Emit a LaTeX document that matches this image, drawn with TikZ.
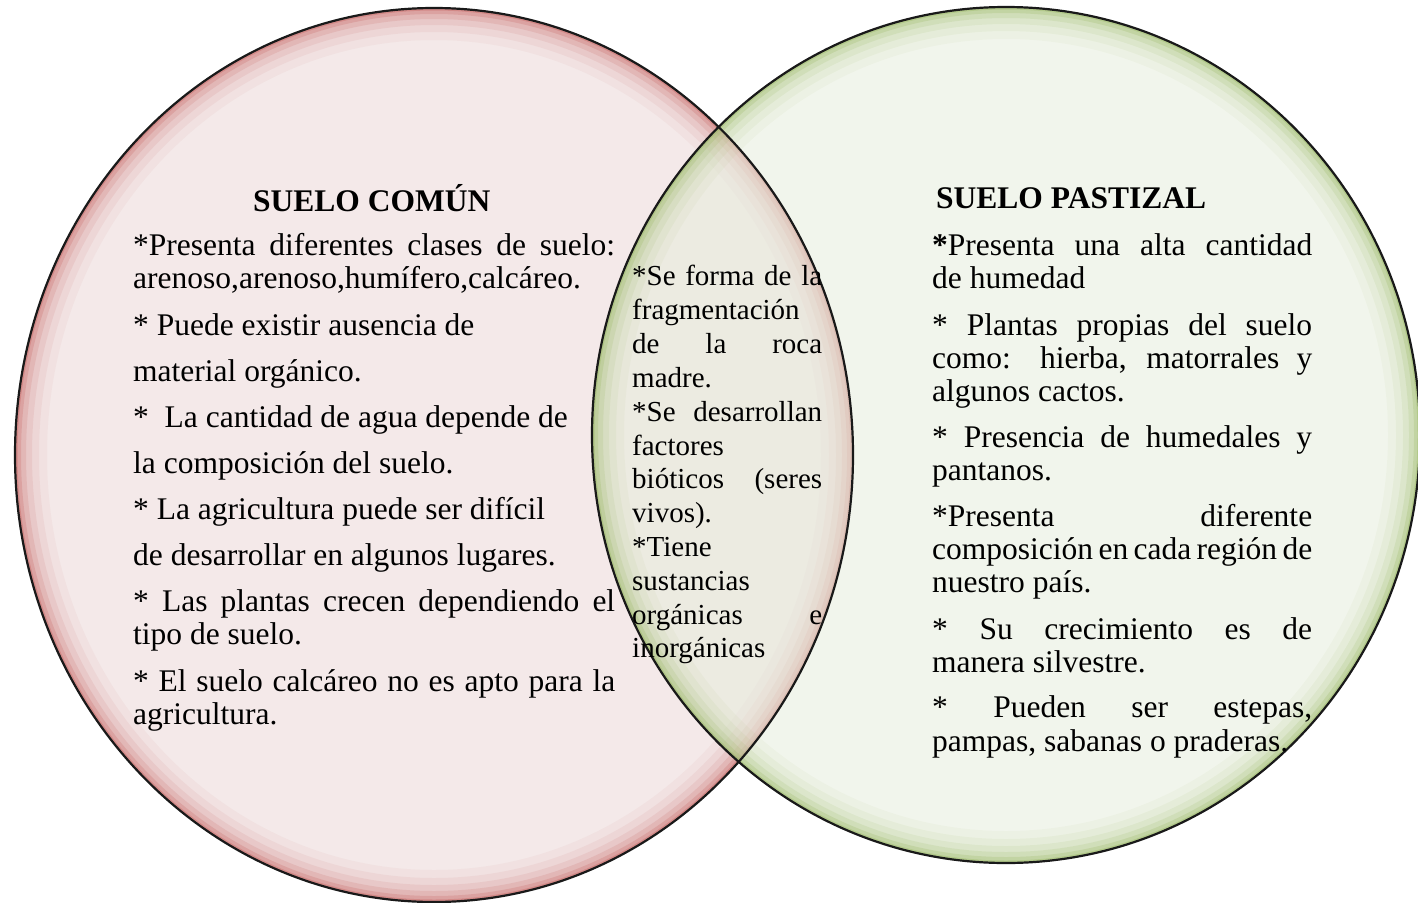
\documentclass[tikz,border=0pt]{standalone}
\usepackage{fontspec}
\setmainfont{Liberation Serif}
\definecolor{redfill}{HTML}{F4E9E9}
\definecolor{redrim}{HTML}{C0504D}
\definecolor{greenfill}{HTML}{E6EDDC}
\definecolor{greenrim}{HTML}{8DB050}
\tikzset{
  body/.style={anchor=base west, inner sep=0pt, font=\fontsize{31.5}{33}\selectfont},
  ttl/.style={anchor=base west, inner sep=0pt, font=\fontsize{31.5}{33}\selectfont\bfseries},
  mid/.style={anchor=base west, inner sep=0pt, font=\fontsize{29}{34}\selectfont},
  border/.style={draw=black!90, line width=2.2pt},
}
\newcommand{\jline}[2]{\makebox[#1][s]{#2}}
\begin{document}
\begin{tikzpicture}[x=1pt,y=-1pt]
\useasboundingbox (0,0) rectangle (1418,902);
% red circle
\begin{scope}
  \clip (434,455) ellipse [x radius=419, y radius=447];
  \fill[redfill] (434,455) ellipse [x radius=419, y radius=447];
  \foreach \w/\o in {64/0.05,48/0.07,34/0.1,22/0.14,12/0.2,5/0.3}
    \draw[redrim, line width=\w pt, opacity=\o] (434,455) ellipse [x radius=419, y radius=447];
\end{scope}
% green circle
\begin{scope}
  \clip (1006,435) ellipse [x radius=414, y radius=428];
  \fill[greenfill, fill opacity=0.55] (1006,435) ellipse [x radius=414, y radius=428];
  \foreach \w/\o in {64/0.05,48/0.07,34/0.1,22/0.14,12/0.2,5/0.3}
    \draw[greenrim, line width=\w pt, opacity=\o] (1006,435) ellipse [x radius=414, y radius=428];
\end{scope}
\draw[border] (434,455) ellipse [x radius=419, y radius=447];
\draw[border] (1006,435) ellipse [x radius=414, y radius=428];
% left text
\node[ttl] (lt) at (253,211) {SUELO COMÚN};
\node[body] (l1) at (133,255) {\jline{482pt}{*Presenta diferentes clases de suelo:}};
\node[body] (l2) at (133,288) {arenoso,arenoso,humífero,calcáreo.};
\node[body] (l3) at (133,335) {* Puede existir ausencia de};
\node[body] (l4) at (133,381) {material orgánico.};
\node[body] (l5) at (133,427) {*\ \ La cantidad de agua depende de};
\node[body] (l6) at (133,473) {la composición del suelo.};
\node[body] (l7) at (133,519) {* La agricultura puede ser difícil};
\node[body] (l8) at (133,565) {de desarrollar en algunos lugares.};
\node[body] (l9) at (133,611) {\jline{482pt}{* Las plantas crecen dependiendo el}};
\node[body] (l10) at (133,644) {tipo de suelo.};
\node[body] (l11) at (133,691) {\jline{482pt}{* El suelo calcáreo no es apto para la}};
\node[body] (l12) at (133,724) {agricultura.};
% middle text
\node[mid] (m1) at (632,285) {\jline{190pt}{*Se forma de la}};
\node[mid] (m2) at (632,319) {fragmentación};
\node[mid] (m3) at (632,353) {\jline{190pt}{de la roca}};
\node[mid] (m4) at (632,387) {madre.};
\node[mid] (m5) at (632,421) {\jline{190pt}{*Se desarrollan}};
\node[mid] (m6) at (632,455) {factores};
\node[mid] (m7) at (632,488) {\jline{190pt}{bióticos (seres}};
\node[mid] (m8) at (632,522) {vivos).};
\node[mid] (m9) at (632,556) {*Tiene};
\node[mid] (m10) at (632,590) {sustancias};
\node[mid] (m11) at (632,624) {\jline{190pt}{orgánicas e}};
\node[mid] (m12) at (632,657) {inorgánicas};
% right text
\node[ttl] (rt) at (936,208) {SUELO PASTIZAL};
\node[body] (r1) at (932,255) {\jline{380pt}{\textbf{*}Presenta una alta cantidad}};
\node[body] (r2) at (932,288) {de humedad};
\node[body] (r3) at (932,335) {\jline{380pt}{* Plantas propias del suelo}};
\node[body] (r4) at (932,368) {\jline{380pt}{como: hierba, matorrales y}};
\node[body] (r5) at (932,401) {algunos cactos.};
\node[body] (r6) at (932,447) {\jline{380pt}{* Presencia de humedales y}};
\node[body] (r7) at (932,480) {pantanos.};
\node[body] (r8) at (932,526) {\jline{380pt}{*Presenta diferente}};
\node[body] (r9) at (932,559) {\jline{380pt}{composición en cada región de}};
\node[body] (r10) at (932,592) {nuestro país.};
\node[body] (r11) at (932,639) {\jline{380pt}{* Su crecimiento es de}};
\node[body] (r12) at (932,672) {manera silvestre.};
\node[body] (r13) at (932,717) {\jline{380pt}{* Pueden ser estepas,}};
\node[body] (r14) at (932,751) {pampas, sabanas o praderas.};
\end{tikzpicture}
\end{document}
